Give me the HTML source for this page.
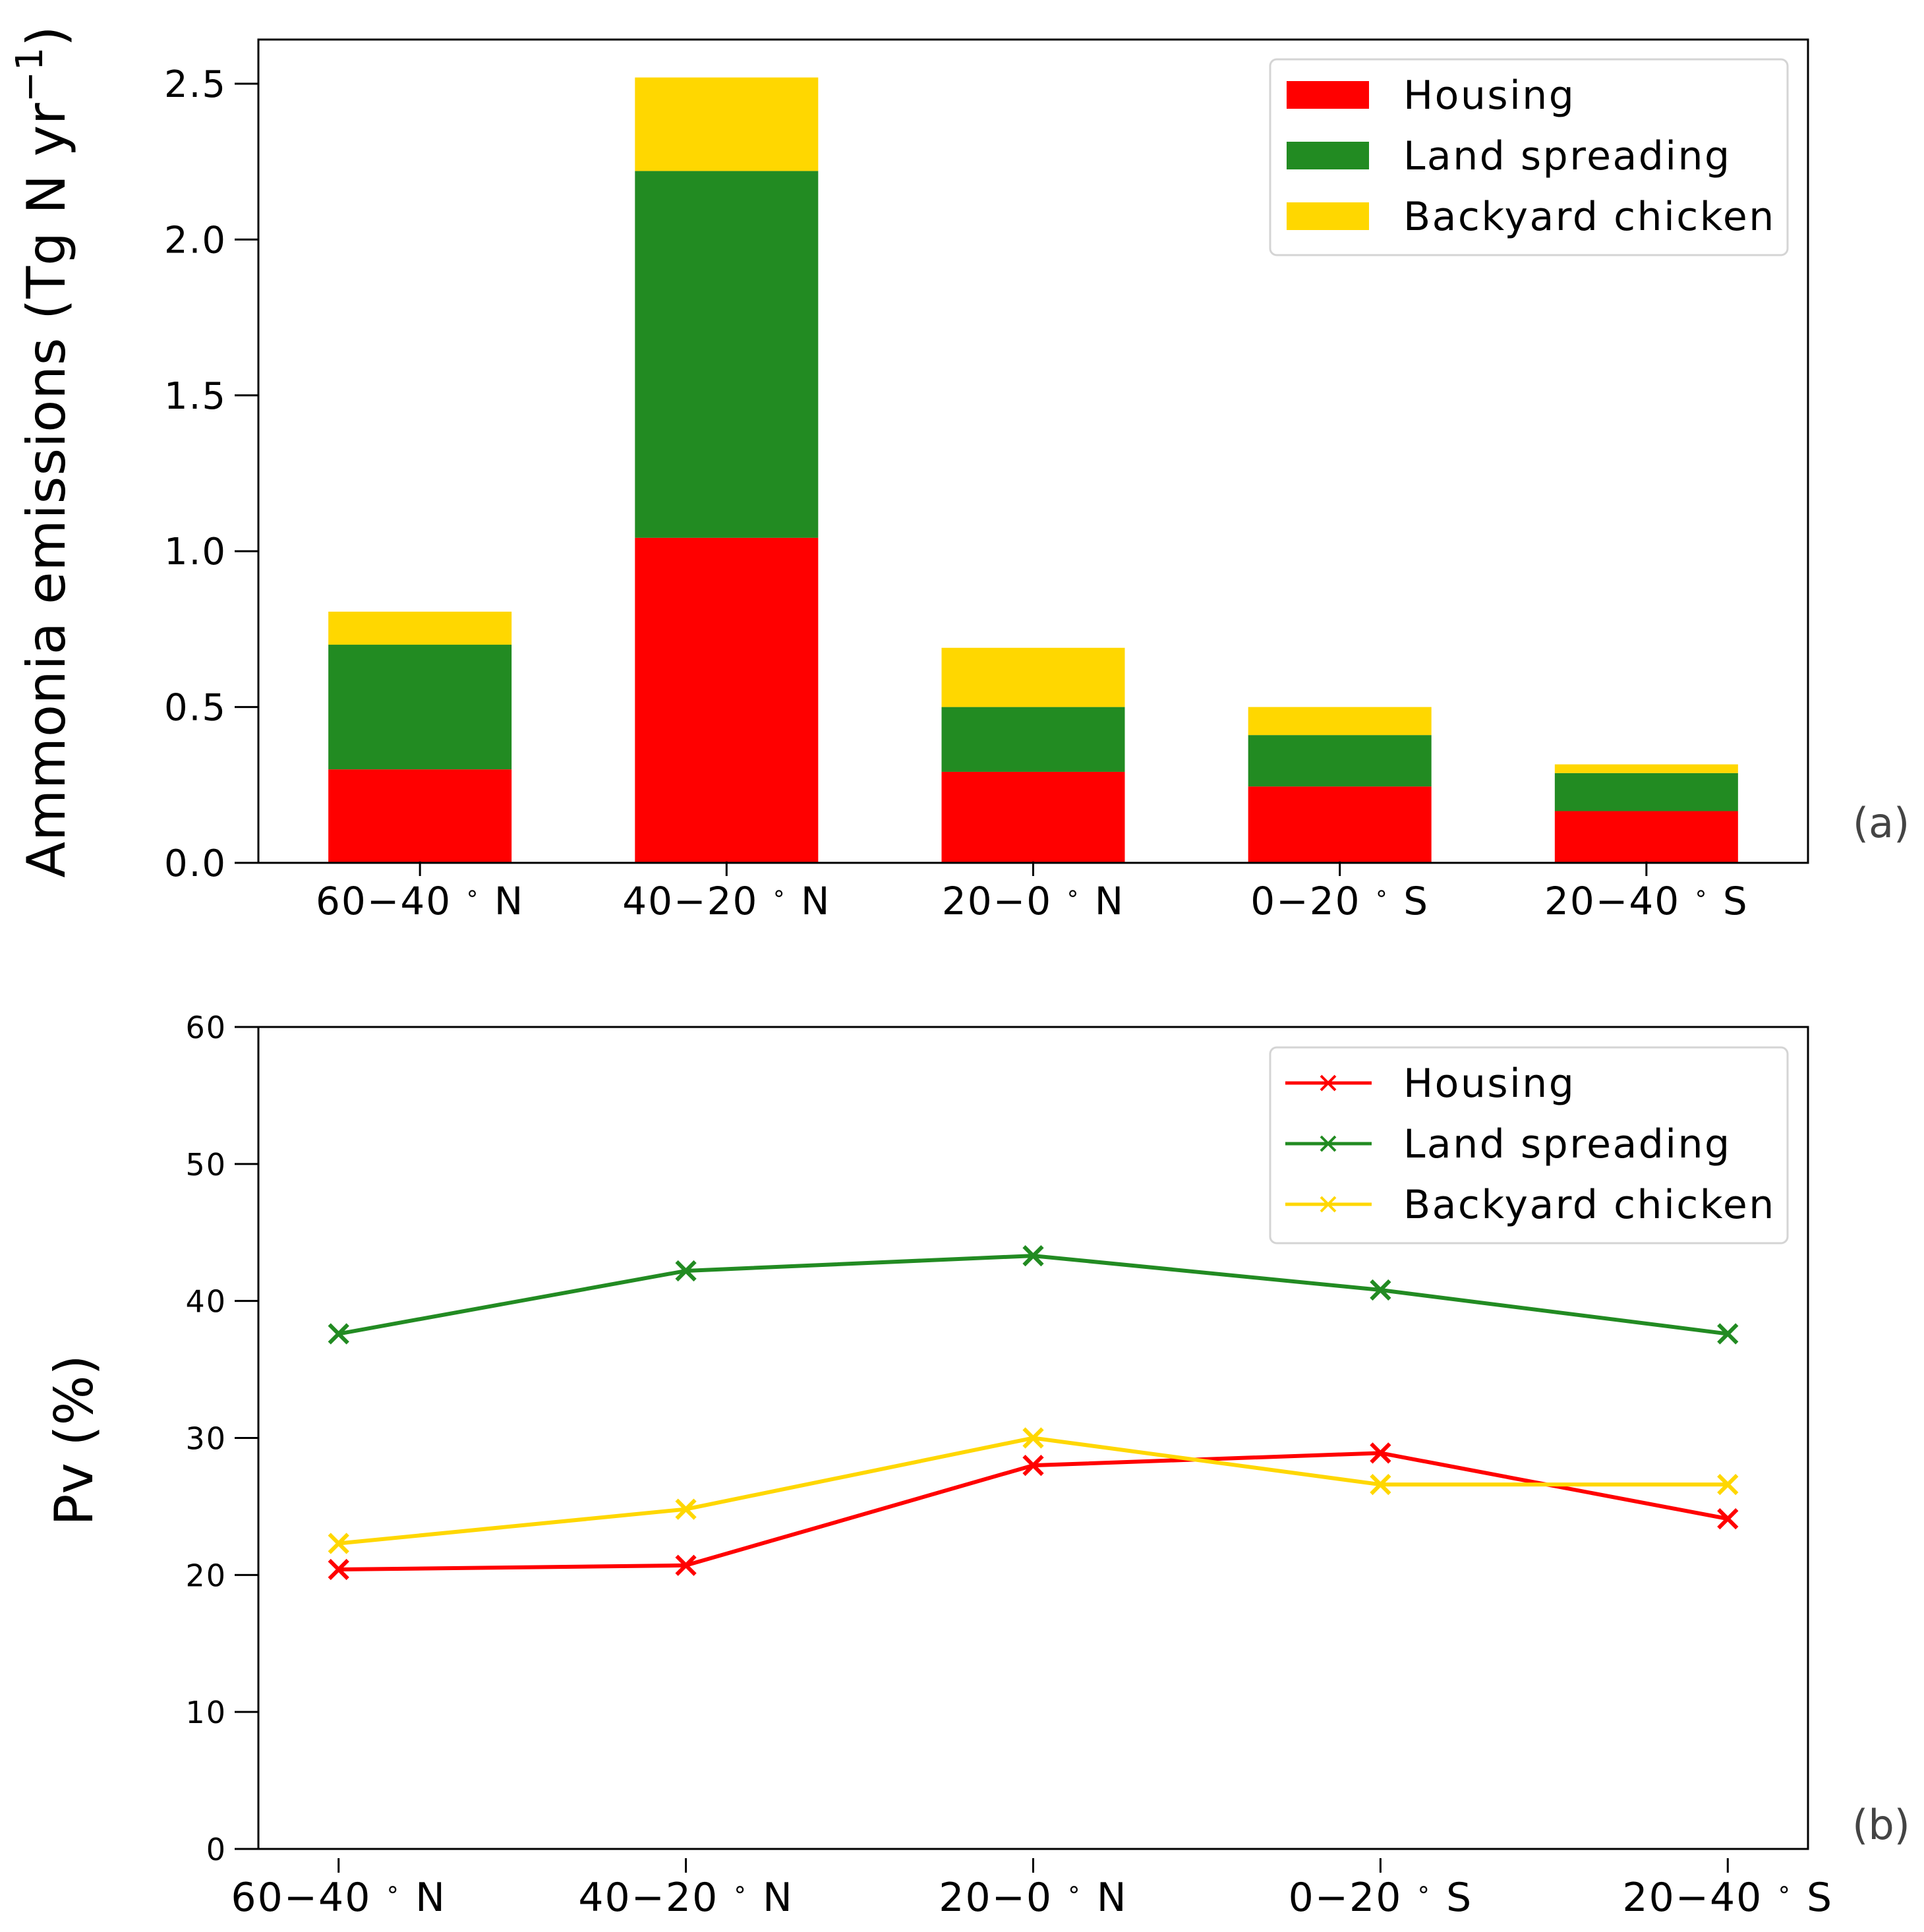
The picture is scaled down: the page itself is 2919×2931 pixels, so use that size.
<!DOCTYPE html>
<html><head><meta charset="utf-8"><style>
html,body{margin:0;padding:0;background:#fff;}
svg{display:block;}
text{font-family:"DejaVu Sans","Liberation Sans",sans-serif;fill:#000;}
</style></head><body>
<svg id="chart" width="2919" height="2931" viewBox="0 0 2919 2931" xmlns="http://www.w3.org/2000/svg"></svg>
<script>
const categories = ["60\u221240", "40\u221220", "20\u22120", "0\u221220", "20\u221240"];
const hemis = ["N","N","N","S","S"];
const housing = [0.30, 1.043, 0.292, 0.245, 0.166];
const landSpreading = [0.40, 1.177, 0.208, 0.165, 0.122];
const backyard = [0.106, 0.30, 0.19, 0.09, 0.028];
const pvHousing = [20.4, 20.7, 28.0, 28.9, 24.1];
const pvLand = [37.6, 42.2, 43.3, 40.8, 37.6];
const pvBackyard = [22.3, 24.8, 30.0, 26.6, 26.6];
const topTicks = [0, 0.5, 1.0, 1.5, 2.0, 2.5];
const topTickLabels = ["0.0","0.5","1.0","1.5","2.0","2.5"];
const botTicks = [0,10,20,30,40,50,60];
const botTickLabels = ["0","10","20","30","40","50","60"];

const NS = "http://www.w3.org/2000/svg";
const svg = document.getElementById('chart');
function mk(tag, attrs, parent){ const e=document.createElementNS(NS,tag); for(const k in attrs) e.setAttribute(k,attrs[k]); (parent||svg).appendChild(e); return e; }
const RED="#ff0000", GREEN="#228b22", GOLD="#ffd700";

// ---------- Top panel ----------
const T={l:392,r:2743,t:60,b:1309};
const tx = i => T.l + (T.r-T.l)*((i+0.527)/(4+2*0.527));
const ty = v => T.b - v*(T.b-127)/2.5;
const gTop = mk('g',{});


const bw = 278;
const stacks=[[housing,RED,'housing'],[landSpreading,GREEN,'land-spreading'],[backyard,GOLD,'backyard-chicken']];
categories.forEach((c,i)=>{
  let base=0;
  stacks.forEach(([arr,col,nm])=>{
    const r=mk('rect',{x:tx(i)-bw/2,y:ty(base+arr[i]),width:bw,height:ty(base)-ty(base+arr[i]),fill:col},gTop);
    
    
    base+=arr[i];
  });
});
mk('rect',{x:T.l,y:T.t,width:T.r-T.l,height:T.b-T.t,fill:'none',stroke:'#000','stroke-width':3},gTop);
topTicks.forEach((v,k)=>{
  mk('line',{x1:T.l-36,x2:T.l,y1:ty(v),y2:ty(v),stroke:'#000','stroke-width':3},gTop);
  const t=mk('text',{x:T.l-48,y:ty(v)+20,'text-anchor':'end','font-size':56,'letter-spacing':2},gTop);
  t.textContent=topTickLabels[k];
  
  
});
function xlabel(g,x,y,i,fs){
  mk('line',{x1:x,x2:x,y1:y-80,y2:y-58,stroke:'#000','stroke-width':3},g);
  const t=mk('text',{x:x,y:y,'text-anchor':'middle','font-size':fs,'letter-spacing':2},g);
  
  
  const a=document.createElementNS(NS,'tspan'); a.textContent=categories[i]+" "; t.appendChild(a);
  const d=document.createElementNS(NS,'tspan'); d.setAttribute('font-size',fs*0.6); d.setAttribute('dy',-fs*0.35); d.textContent="\u2218"; t.appendChild(d);
  const h=document.createElementNS(NS,'tspan'); h.setAttribute('dy',fs*0.35); h.textContent=" "+hemis[i]; t.appendChild(h);
}
categories.forEach((c,i)=>xlabel(gTop,tx(i),1387,i,58));
const yl=mk('text',{x:0,y:0,'text-anchor':'middle','font-size':80,'letter-spacing':1,transform:'translate(98,685) rotate(-90)'});


yl.innerHTML='Ammonia emissions (Tg N yr<tspan font-size="56" dy="-34">\u22121</tspan><tspan dy="34">)</tspan>';
const pa=mk('text',{x:2854,y:1270,'text-anchor':'middle','font-size':62,style:'fill:#444'});
pa.textContent='(a)';



function legend(y0,kind){
  const g=mk('g',{});
  
  
  mk('rect',{x:1927,y:y0,width:785,height:297,rx:10,fill:'#fff',stroke:'#d4d4d4','stroke-width':3},g);
  [['Housing',RED],['Land spreading',GREEN],['Backyard chicken',GOLD]].forEach(([n,c],k)=>{
    const cy=y0+54+k*92;
    if(kind==='bar'){ mk('rect',{x:1952,y:cy-21,width:125,height:42,fill:c},g); }
    else { mk('line',{x1:1950,x2:2081,y1:cy,y2:cy,stroke:c,'stroke-width':5},g);
      mk('path',{d:`M${2015-11},${cy-11}L${2015+11},${cy+11}M${2015-11},${cy+11}L${2015+11},${cy-11}`,stroke:c,'stroke-width':4},g); }
    const t=mk('text',{x:2129,y:cy+21,'font-size':60,'letter-spacing':2.5},g);
    t.textContent=n;
    
    
  });
}
legend(90,'bar');

// ---------- Bottom panel ----------
const B={l:392,r:2743,t:1558,b:2805};
const bx = i => B.l + (B.r-B.l)*((i+0.231)/(4+2*0.231));
const by = v => B.b - v*(B.b-B.t)/60;
const gBot=mk('g',{});


mk('rect',{x:B.l,y:B.t,width:B.r-B.l,height:B.b-B.t,fill:'none',stroke:'#000','stroke-width':3},gBot);
botTicks.forEach((v,k)=>{
  mk('line',{x1:B.l-36,x2:B.l,y1:by(v),y2:by(v),stroke:'#000','stroke-width':3},gBot);
  const t=mk('text',{x:B.l-48,y:by(v)+17,'text-anchor':'end','font-size':46,'letter-spacing':2},gBot);
  t.textContent=botTickLabels[k];
  
  
});
categories.forEach((c,i)=>xlabel(gBot,bx(i),2899,i,60));
[[pvHousing,RED,'housing'],[pvLand,GREEN,'land-spreading'],[pvBackyard,GOLD,'backyard-chicken']].forEach(([arr,c,nm])=>{
  const pl=mk('polyline',{points:arr.map((v,i)=>bx(i)+','+by(v)).join(' '),fill:'none',stroke:c,'stroke-width':6},gBot);
  
  
  arr.forEach((v,i)=>{
    const x=bx(i),y=by(v),s=14;
    const m=mk('path',{d:`M${x-s},${y-s}L${x+s},${y+s}M${x-s},${y+s}L${x+s},${y-s}`,stroke:c,'stroke-width':6},gBot);
    
    
  });
});
const y2=mk('text',{x:0,y:0,'text-anchor':'middle','font-size':80,transform:'translate(140,2185) rotate(-90)'});
y2.textContent='Pv (%)';


const pb=mk('text',{x:2854,y:2790,'text-anchor':'middle','font-size':62,style:'fill:#444'});
pb.textContent='(b)';


legend(1589,'line');
</script>
</body></html>
